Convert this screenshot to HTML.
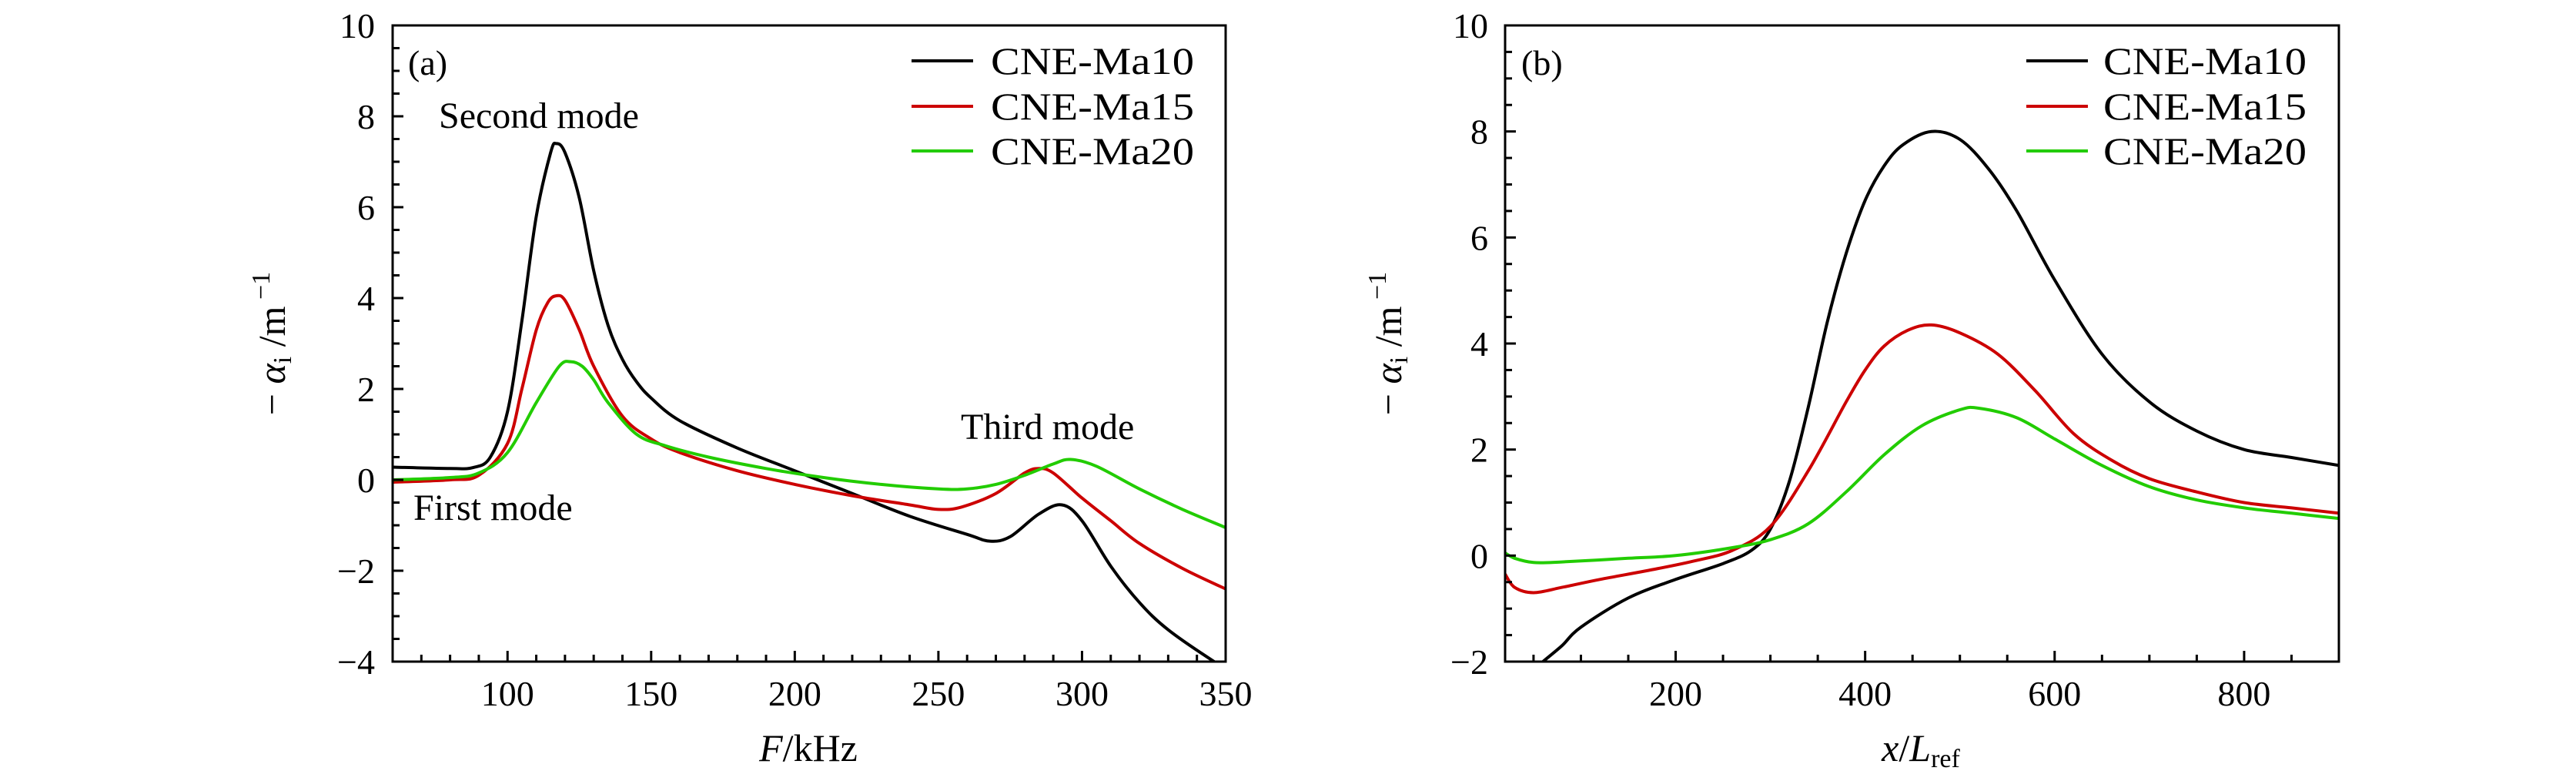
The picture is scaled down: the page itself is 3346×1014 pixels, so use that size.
<!DOCTYPE html>
<html><head><meta charset="utf-8"><style>
html,body{margin:0;padding:0;background:#fff;}
svg{display:block;font-family:"Liberation Serif",serif;}
</style></head><body>
<svg id="fig" width="3346" height="1014" viewBox="0 0 3346 1014" xmlns="http://www.w3.org/2000/svg">
<defs>
<clipPath id="clipA"><rect x="510" y="33" width="1082" height="826"/></clipPath>
<clipPath id="clipB"><rect x="1955" y="33" width="1083" height="826"/></clipPath>
</defs>
<g id="panelA"></g>
<g id="panelB"></g>
</svg>
<script>
// Panel (a) data: F (kHz) vs -alpha_i
const aBlackX=[60,80,88,94,100,105,110,115,117,120,125,130,135,140,145,150,160,180,200,220,240,260,268,275,285,293,300,310,320,330,346,352];
const aBlackY=[0.28,0.25,0.27,0.5,1.5,3.5,5.8,7.2,7.4,7.2,6.2,4.6,3.4,2.65,2.15,1.8,1.3,0.7,0.2,-0.3,-0.8,-1.2,-1.35,-1.25,-0.75,-0.55,-0.9,-1.9,-2.7,-3.3,-4.0,-4.2];
const aRedX=[60,80,90,100,105,110,114,117,120,125,130,140,150,160,180,200,220,240,250,258,270,280,285,290,300,310,320,335,350];
const aRedY=[-0.05,0,0.1,0.8,2,3.3,3.9,4.05,3.95,3.3,2.5,1.4,0.9,0.6,0.2,-0.1,-0.35,-0.55,-0.65,-0.6,-0.3,0.15,0.25,0.15,-0.4,-0.9,-1.4,-1.95,-2.4];
const aGreenX=[60,80,90,100,110,118,122,126,130,135,145,155,170,190,210,230,250,260,270,280,290,296,305,320,335,350];
const aGreenY=[0,0.05,0.15,0.6,1.7,2.5,2.6,2.5,2.2,1.7,1.0,0.75,0.5,0.25,0.05,-0.1,-0.2,-0.2,-0.1,0.1,0.35,0.45,0.3,-0.2,-0.65,-1.05];
const aXTicks=[100,150,200,250,300,350];
const aYTicks=[-4,-2,0,2,4,6,8,10];
// Panel (b) data: x/Lref vs -alpha_i
const bBlackX=[55,60,80,100,150,200,250,280,300,320,340,360,380,400,420,440,470,500,530,560,600,650,700,750,800,850,900];
const bBlackY=[-2.1,-2,-1.7,-1.35,-0.8,-0.45,-0.15,0.1,0.5,1.4,2.8,4.4,5.7,6.7,7.35,7.75,8.0,7.85,7.3,6.5,5.2,3.8,2.9,2.35,2.0,1.85,1.7];
const bRedX=[20,30,50,80,120,180,220,260,300,340,380,400,420,445,470,500,540,580,620,660,700,750,800,850,900];
const bRedY=[-0.35,-0.6,-0.7,-0.6,-0.45,-0.25,-0.1,0.1,0.55,1.6,2.9,3.5,3.95,4.25,4.35,4.2,3.8,3.1,2.3,1.8,1.45,1.2,1.0,0.9,0.8];
const bGreenX=[20,30,50,80,150,200,260,300,340,380,420,460,500,520,560,600,650,700,750,800,850,900];
const bGreenY=[0.05,-0.05,-0.13,-0.12,-0.05,0.0,0.15,0.3,0.6,1.2,1.9,2.45,2.75,2.78,2.6,2.2,1.7,1.3,1.05,0.9,0.8,0.7];
const bXTicks=[200,400,600,800];
const bYTicks=[-2,0,2,4,6,8,10];
const seriesNames=["CNE-Ma10","CNE-Ma15","CNE-Ma20"];
const seriesColors=["#000000","#cc0000","#22cc00"];

const NS="http://www.w3.org/2000/svg";
function mk(parent,tag,attrs,text){const e=document.createElementNS(NS,tag);for(const k in attrs)e.setAttribute(k,attrs[k]);if(text!==undefined)e.textContent=text;parent.appendChild(e);return e;}
function pathFrom(xs,ys,sx,sy){
  const p=xs.map((x,i)=>[sx(x),sy(ys[i])]);
  let d="M"+p[0][0].toFixed(1)+","+p[0][1].toFixed(1);
  for(let i=0;i<p.length-1;i++){
    const p0=p[i-1]||p[i],p1=p[i],p2=p[i+1],p3=p[i+2]||p[i+1];
    const c1=[p1[0]+(p2[0]-p0[0])/6,p1[1]+(p2[1]-p0[1])/6];
    const c2=[p2[0]-(p3[0]-p1[0])/6,p2[1]-(p3[1]-p1[1])/6];
    d+=" C"+c1[0].toFixed(1)+","+c1[1].toFixed(1)+" "+c2[0].toFixed(1)+","+c2[1].toFixed(1)+" "+p2[0].toFixed(1)+","+p2[1].toFixed(1);
  }
  return d;
}
function panel(g,cfg){
  const {L,R,T,B,xmin,xmax,ymin,ymax,xTicks,xMinorStep,yTicks,clip,series,legendX1,legendX2,legendTX,label,labelX,ytitleX,ylabelX}=cfg;
  const sx=v=>L+(v-xmin)/(xmax-xmin)*(R-L);
  const sy=v=>B-(v-ymin)/(ymax-ymin)*(B-T);
  const cg=mk(g,"g",{"clip-path":"url(#"+clip+")"});
  series.forEach((s,i)=>{
    const p=mk(cg,"path",{d:pathFrom(s[0],s[1],sx,sy),fill:"none",stroke:seriesColors[i],"stroke-width":4,"stroke-linejoin":"round"});
    
    
  });
  for(let v=Math.ceil(xmin/xMinorStep)*xMinorStep;v<=xmax;v+=xMinorStep){
    const major=xTicks.includes(v);
    const t=mk(g,"line",{x1:sx(v),x2:sx(v),y1:B,y2:B-(major?14:9),stroke:"#000","stroke-width":3});
    
    
  }
  xTicks.forEach(v=>{
    const t=mk(g,"text",{x:sx(v),y:B+57,"font-size":46,"text-anchor":"middle"},String(v));
    
    
  });
  for(let v=ymin;v<=ymax+1e-9;v+=0.5){
    const major=Math.abs(v-Math.round(v))<1e-9 && Math.round(v)%2===0;
    const t=mk(g,"line",{x1:L,x2:L+(major?14:9),y1:sy(v),y2:sy(v),stroke:"#000","stroke-width":3});
    
    
  }
  yTicks.forEach(v=>{
    const t=mk(g,"text",{x:ylabelX,y:sy(v)+16,"font-size":46,"text-anchor":"end"},v<0?"\u2212"+(-v):String(v));
    
    
  });
  const fr=mk(g,"rect",{x:L,y:T,width:R-L,height:B-T,fill:"none",stroke:"#000","stroke-width":3});
  
  
  const lg=mk(g,"g",{});
  
  
  const rows=[79,138,196];
  seriesNames.forEach((n,i)=>{
    const ln=mk(lg,"line",{x1:legendX1,x2:legendX2,y1:rows[i],y2:rows[i],stroke:seriesColors[i],"stroke-width":4});
    
    
    const tx=mk(lg,"text",{x:legendTX,y:rows[i]+17,"font-size":50,textLength:264,lengthAdjust:"spacingAndGlyphs"},n);
    
    
  });
  const lb=mk(g,"text",{x:labelX,y:97,"font-size":46},label);
  
  
  const yt=mk(g,"text",{x:0,y:0,"font-size":50,"text-anchor":"middle",transform:"translate("+(ytitleX+16)+",446) rotate(-90)"});
  
  
  yt.innerHTML='\u2212 <tspan font-style="italic">\u03b1</tspan><tspan font-size="34" dy="8">i</tspan><tspan dy="-8"> /m</tspan><tspan font-size="34" dy="-20"> \u22121</tspan>';
  return {sx,sy};
}
const A=document.getElementById("panelA");
panel(A,{L:510,R:1592,T:33,B:859,xmin:60,xmax:350,ymin:-4,ymax:10,xTicks:aXTicks,xMinorStep:10,yTicks:aYTicks,clip:"clipA",
  series:[[aBlackX,aBlackY],[aRedX,aRedY],[aGreenX,aGreenY]],legendX1:1184,legendX2:1264,legendTX:1287,label:"(a)",labelX:530,ytitleX:354,ylabelX:487});
const xa=mk(A,"text",{x:1050,y:988,"font-size":50,"text-anchor":"middle"});


xa.innerHTML='<tspan font-style="italic">F</tspan>/kHz';
[["Second mode",570,166,"annotation-second-mode"],["First mode",537,675,"annotation-first-mode"],["Third mode",1248,570,"annotation-third-mode"]].forEach(a=>{
  const t=mk(A,"text",{x:a[1],y:a[2],"font-size":48},a[0]);
  
  
});
const Bp=document.getElementById("panelB");
panel(Bp,{L:1955,R:3038,T:33,B:859,xmin:20,xmax:900,ymin:-2,ymax:10,xTicks:bXTicks,xMinorStep:50,yTicks:bYTicks,clip:"clipB",
  series:[[bBlackX,bBlackY],[bRedX,bRedY],[bGreenX,bGreenY]],legendX1:2632,legendX2:2712,legendTX:2732,label:"(b)",labelX:1976,ytitleX:1804,ylabelX:1933});
const xb=mk(Bp,"text",{x:2495,y:988,"font-size":50,"text-anchor":"middle"});


xb.innerHTML='<tspan font-style="italic">x</tspan>/<tspan font-style="italic">L</tspan><tspan font-size="34" dy="8">ref</tspan>';
</script>
</body></html>
